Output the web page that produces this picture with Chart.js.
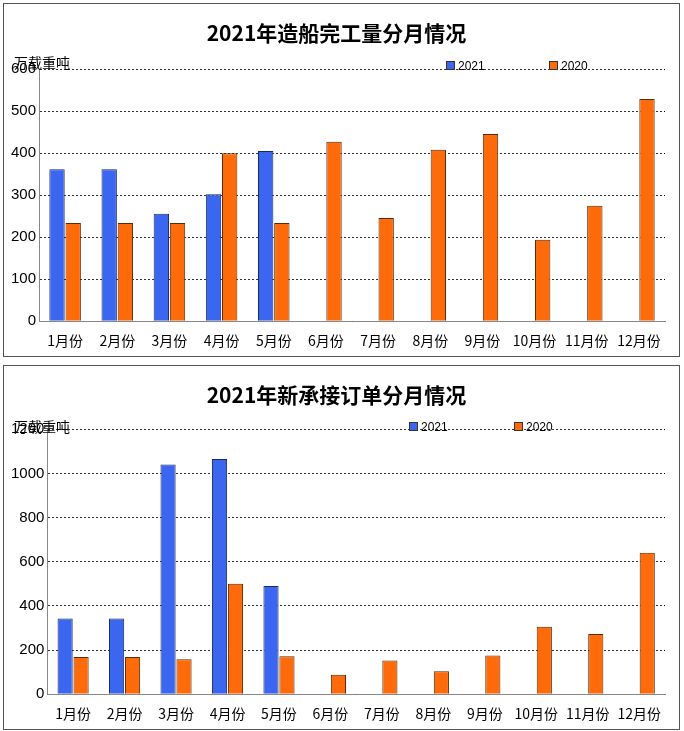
<!DOCTYPE html>
<html><head><meta charset="utf-8">
<script src="https://cdn.jsdelivr.net/npm/chart.js"></script>
<style>
body{margin:0;background:#fff;font-family:"Noto Sans CJK SC",sans-serif}
.box{position:absolute;left:3px;width:675px;border:1px solid #555;background:#fff}
.unit{position:absolute;left:10px;font-size:14px;color:#000}
.lg{position:absolute;font:12px "Liberation Sans",sans-serif;color:#000}
.lg i{display:inline-block;width:7px;height:7px;margin-right:3px;border:1px solid #333}
</style></head><body>
<div class="box" style="top:3px;height:352px"><canvas id="c1"></canvas><div class="unit" style="top:48px">万载重吨</div>
<div class="lg" style="left:442px;top:55px"><i style="background:#3a66f0"></i>2021</div>
<div class="lg" style="left:545px;top:55px"><i style="background:#ff6a0a"></i>2020</div></div>
<div class="box" style="top:365px;height:363px"><canvas id="c2"></canvas><div class="unit" style="top:50px">万载重吨</div>
<div class="lg" style="left:405px;top:54px"><i style="background:#3a66f0"></i>2021</div>
<div class="lg" style="left:510px;top:54px"><i style="background:#ff6a0a"></i>2020</div></div>
<script>
const months = ["1月份","2月份","3月份","4月份","5月份","6月份","7月份","8月份","9月份","10月份","11月份","12月份"];
const done2021 = [362, 362, 256, 302, 405, null, null, null, null, null, null, null];
const done2020 = [234, 234, 234, 400, 234, 427, 246, 408, 446, 194, 275, 529];
const order2021 = [343, 343, 1040, 1065, 490, null, null, null, null, null, null, null];
const order2020 = [168, 168, 158, 500, 172, 88, 153, 104, 175, 305, 273, 640];

function make(id, title, a, b, max, step, h, titlePad) {
  const el = document.getElementById(id);
  el.width = 675; el.height = h; el.style.width = "675px"; el.style.height = h + "px";
  new Chart(el, {
    type: "bar",
    data: { labels: months, datasets: [
      { label: "2021", data: a, backgroundColor: "#3a66f0", borderColor: "#1a2a60", borderWidth: 1 },
      { label: "2020", data: b, backgroundColor: "#ff6a0a", borderColor: "#5a2a00", borderWidth: 1 }
    ]},
    options: {
      responsive: false, animation: false,
      layout: { padding: { left: 4, right: 14, top: 4, bottom: 2 } },
      datasets: { bar: { categoryPercentage: 0.62, barPercentage: 0.95 } },
      plugins: {
        title: { display: true, text: title, color: "#000", font: { size: 21, weight: "bold", family: "Noto Sans CJK SC" }, padding: { top: 12, bottom: titlePad } },
        legend: { display: false },
        tooltip: { enabled: false }
      },
      scales: {
        x: { grid: { display: false }, border: { color: "#888" }, ticks: { color: "#000", font: { size: 14, family: "Noto Sans CJK SC" }, maxRotation: 0, autoSkip: false } },
        y: { min: 0, max: max, ticks: { stepSize: step, color: "#000", font: { size: 15, family: "Liberation Sans" }, callback: v => String(v) },
             grid: { color: "#000", lineWidth: 0.8, drawTicks: false }, border: { dash: [2, 2], color: "#888" } }
      }
    }
  });
}
make("c1", "2021年造船完工量分月情况", done2021, done2020, 600, 100, 350, 24);
make("c2", "2021年新承接订单分月情况", order2021, order2020, 1200, 200, 361, 22);
</script>
</body></html>
